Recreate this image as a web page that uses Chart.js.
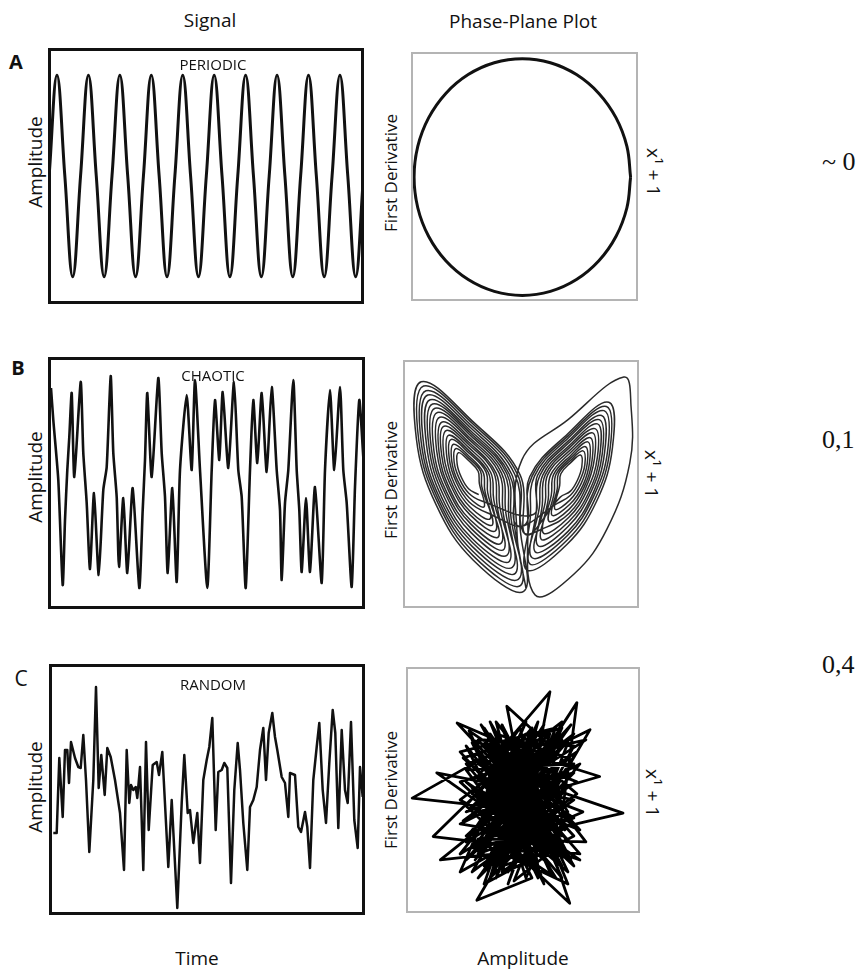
<!DOCTYPE html>
<html>
<head>
<meta charset="utf-8">
<script src="https://cdn.jsdelivr.net/npm/chart.js@4.4.1/dist/chart.umd.min.js"></script>
<style>
  body { margin: 0; background: #fff; width: 864px; height: 975px; position: relative; overflow: hidden;
         font-family: 'Open Sans', 'Noto Sans', sans-serif; color: #111; }
  .box { position: absolute; box-sizing: border-box; background: #fff; }
  .sig { border: 3px solid #111; }
  .phase { border: 2px solid #b4b4b4; }
  .box canvas { position: absolute; left: 0; top: 0; }
  .lbl { position: absolute; transform: translate(-50%, -50%); white-space: nowrap; line-height: 1; }
  .up { transform: translate(-50%, -50%) rotate(-90deg); }
  .down { transform: translate(-50%, -50%) rotate(90deg); }
  .num { font-family: 'Liberation Serif', 'DejaVu Serif', serif; font-size: 26px; transform: translate(0, -50%); }
</style>
</head>
<body>

<div class="lbl" style="left:210px;top:20px;font-size:19px">Signal</div>
<div class="lbl" style="left:523px;top:21px;font-size:19px">Phase-Plane Plot</div>

<div class="lbl" style="left:16px;top:62px;font-size:20px;font-weight:bold">A</div>
<div class="lbl" style="left:18px;top:368px;font-size:20px;font-weight:bold">B</div>
<div class="lbl" style="left:21px;top:678px;font-size:21px">C</div>

<div class="box sig" style="left:48px;top:48px;width:316px;height:256px"><canvas id="sigA" width="310" height="250"></canvas></div>
<div class="box phase" style="left:411px;top:52px;width:227px;height:249px"><canvas id="phA" width="223" height="245"></canvas></div>
<div class="box sig" style="left:48px;top:357px;width:317px;height:252px"><canvas id="sigB" width="311" height="246"></canvas></div>
<div class="box phase" style="left:403px;top:360px;width:236px;height:248px"><canvas id="phB" width="232" height="244"></canvas></div>
<div class="box sig" style="left:49px;top:664px;width:316px;height:251px"><canvas id="sigC" width="310" height="245"></canvas></div>
<div class="box phase" style="left:406px;top:667px;width:234px;height:246px"><canvas id="phC" width="230" height="242"></canvas></div>

<div class="lbl" style="left:213px;top:64px;font-size:15px">PERIODIC</div>
<div class="lbl" style="left:213px;top:375px;font-size:15px">CHAOTIC</div>
<div class="lbl" style="left:213px;top:684px;font-size:15px">RANDOM</div>

<div class="lbl up" style="left:35px;top:162px;font-size:19px">Amplitude</div>
<div class="lbl up" style="left:35px;top:477px;font-size:19px">Amplitude</div>
<div class="lbl up" style="left:35px;top:787px;font-size:19px">Amplitude</div>

<div class="lbl up" style="left:390px;top:173px;font-size:17px">First Derivative</div>
<div class="lbl up" style="left:390px;top:480px;font-size:17px">First Derivative</div>
<div class="lbl up" style="left:390px;top:790px;font-size:17px">First Derivative</div>

<div class="lbl down" style="left:653px;top:172px;font-size:19px">x¹ + 1</div>
<div class="lbl down" style="left:651px;top:474px;font-size:19px">x¹ + 1</div>
<div class="lbl down" style="left:652px;top:793px;font-size:19px">x¹ + 1</div>

<div class="lbl num" style="left:822px;top:162px">~ 0</div>
<div class="lbl num" style="left:822px;top:440px">0,1</div>
<div class="lbl num" style="left:822px;top:665px">0,4</div>

<div class="lbl" style="left:197px;top:958px;font-size:19px">Time</div>
<div class="lbl" style="left:523px;top:958px;font-size:19px">Amplitude</div>

<script>
// A - periodic signal, one value per quarter period
const periodicAmp = [0, 1, 0, -1, 0, 1, 0, -1, 0, 1, 0, -1, 0, 1, 0, -1, 0, 1, 0, -1,
                     0, 1, 0, -1, 0, 1, 0, -1, 0, 1, 0, -1, 0, 1, 0, -1, 0, 1, 0, -1, 0, 1];

// A - phase plane (amplitude, first derivative)
const circleX = [1, 0.966, 0.866, 0.707, 0.5, 0.259, 0, -0.259, -0.5, -0.707, -0.866, -0.966,
                 -1, -0.966, -0.866, -0.707, -0.5, -0.259, 0, 0.259, 0.5, 0.707, 0.866, 0.966, 1];
const circleY = [0, 0.259, 0.5, 0.707, 0.866, 0.966, 1, 0.966, 0.866, 0.707, 0.5, 0.259,
                 0, -0.259, -0.5, -0.707, -0.866, -0.966, -1, -0.966, -0.866, -0.707, -0.5, -0.259, 0];

// B - chaotic signal
const chaoticT = [0.1, 0.33, 0.83, 1.27, 1.5, 1.73, 1.93, 2.17, 2.43, 3.07, 3.33, 3.67, 4.0, 4.4, 4.87,
  5.33, 5.67, 6.07, 6.33, 6.67, 6.9, 7.33, 7.73, 8.27, 8.93, 9.27, 9.5, 9.73, 10.17, 10.83,
  11.17, 11.5, 11.77, 12.23, 12.67, 13.0, 13.67, 14.17, 14.5, 15.0, 15.73, 16.17, 16.5, 16.93, 17.27,
  17.83, 18.4, 18.83, 19.17, 19.57, 20.0, 20.33, 20.73, 21.17, 21.67, 22.17, 22.67, 23.0, 23.17, 23.5,
  23.83, 24.33, 24.67, 24.93, 25.17, 25.6, 26.0, 26.5, 27.17, 27.5, 28.0, 28.43, 29.0, 29.33, 29.67,
  30.17, 30.5, 30.93, 31.33];
const chaoticV = [9.5, 6.3, 0.3, -10.2, -3.7, 1.3, 4.6, 9.0, 0.6, 10.1, 3.0, -2.0, -8.6, -1.0, -9.2,
  -0.7, 1.6, 10.7, 3.0, -1.4, -8.4, -1.5, -9.0, -0.5, -10.5, -2.7, 2.3, 9.0, 0.6, 10.5,
  3.0, -1.4, -9.0, -0.5, -9.9, 1.3, 8.8, 1.3, 10.3, 1.3, -10.5, 1.3, 8.3, 2.3, 9.1,
  1.5, 10.1, 1.3, -1.4, -10.5, 1.3, 8.3, 2.0, 9.0, 1.1, 9.6, 1.3, -2.7, -9.7, -2.0,
  1.3, 10.3, 1.3, -2.7, -8.9, -1.5, -8.9, -0.4, -10.0, 1.3, 9.3, 1.3, 9.6, 1.3, -2.0,
  -10.4, -0.4, 8.3, 2.6];

// B - phase plane, trajectory around the two wings
const chaoticPhase = [
  [-6.9,18.7],[-8.6,19.7],[-9.8,21.6],[-10.5,23.8],[-10.3,25.7],[-8.6,24.4],[-7.0,22.6],[-6.8,20.6],
  [-6.0,16.7],[-8.5,18.2],[-10.4,21.0],[-11.4,24.3],[-11.1,27.1],[-8.6,25.2],[-6.2,22.5],[-5.9,19.5],
  [-5.0,14.7],[-8.4,16.7],[-10.9,20.4],[-12.2,24.8],[-11.9,28.6],[-8.5,26.0],[-5.3,22.4],[-4.9,18.4],
  [-4.1,12.7],[-8.3,15.3],[-11.4,19.9],[-13.1,25.4],[-12.7,30.1],[-8.4,26.9],[-4.4,22.4],[-3.9,17.4],
  [-3.2,10.6],[-8.2,13.8],[-11.9,19.3],[-13.9,25.9],[-13.4,31.6],[-8.3,27.7],[-3.5,22.3],[-2.9,16.3],
  [-2.2,8.6],[-8.1,12.3],[-12.4,18.7],[-14.8,26.4],[-14.2,33.1],[-8.2,28.5],[-2.6,22.2],[-1.9,15.2],
  [-1.3,6.6],[-8.0,10.8],[-13.0,18.1],[-15.6,26.9],[-15.0,34.5],[-8.2,29.3],[-1.8,22.1],[-1.0,14.1],
  [-0.3,4.6],[-7.9,9.3],[-13.5,17.6],[-16.5,27.5],[-15.7,36.0],[-8.1,30.2],[-0.9,22.1],[0.0,13.1],
  [0.6,2.6],[-7.8,7.8],[-14.0,17.0],[-17.3,28.0],[-16.5,37.5],[-8.0,31.0],[0.0,22.0],[1.0,12.0],
  [6.7,18.3],[8.4,19.3],[9.6,21.2],[10.3,23.4],[10.1,25.3],[8.4,24.0],[6.8,22.2],[6.6,20.2],
  [5.8,16.3],[8.3,17.8],[10.2,20.6],[11.2,23.9],[10.9,26.7],[8.4,24.8],[6.0,22.1],[5.7,19.1],
  [4.8,14.3],[8.2,16.3],[10.7,20.0],[12.0,24.4],[11.7,28.2],[8.3,25.6],[5.1,22.0],[4.7,18.0],
  [3.9,12.3],[8.1,14.9],[11.2,19.5],[12.9,25.0],[12.5,29.7],[8.2,26.5],[4.2,22.0],[3.7,17.0],
  [3.0,10.2],[8.0,13.4],[11.7,18.9],[13.7,25.5],[13.2,31.2],[8.1,27.3],[3.3,21.9],[2.7,15.9],
  [2.0,8.2],[7.9,11.9],[12.2,18.3],[14.6,26.0],[14.0,32.7],[8.0,28.1],[2.4,21.8],[1.7,14.8],
  [1.1,6.2],[7.8,10.4],[12.8,17.7],[15.4,26.5],[14.8,34.1],[8.0,28.9],[1.6,21.7],[0.8,13.7],
  [-5.5,15.7],[-8.5,17.5],[-10.6,20.7],[-11.8,24.6],[-11.5,27.9],[-8.5,25.6],[-5.7,22.5],[-5.4,19.0],
  [-3.6,11.7],[-8.3,14.5],[-11.7,19.6],[-13.5,25.6],[-13.0,30.8],[-8.4,27.3],[-4.0,22.3],[-3.4,16.8],
  [-1.8,7.6],[-8.1,11.5],[-12.7,18.4],[-15.2,26.7],[-14.6,33.8],[-8.2,28.9],[-2.2,22.2],[-1.5,14.7],
  [0.1,3.6],[-7.9,8.6],[-13.7,17.3],[-16.9,27.7],[-16.1,36.8],[-8.0,30.6],[-0.4,22.0],[0.5,12.5],
  [4.4,13.3],[8.2,15.6],[10.9,19.7],[12.4,24.7],[12.1,29.0],[8.2,26.0],[4.6,22.0],[4.2,17.5],
  [2.5,9.2],[8.0,12.6],[12.0,18.6],[14.1,25.8],[13.6,31.9],[8.1,27.7],[2.9,21.9],[2.2,15.4],
  [-6.5,17.7],[-8.6,19.0],[-10.1,21.3],[-11.0,24.1],[-10.7,26.4],[-8.6,24.8],[-6.6,22.6],[-6.4,20.1],
  [-4.6,13.7],[-8.4,16.0],[-11.2,20.2],[-12.7,25.1],[-12.3,29.4],[-8.5,26.5],[-4.9,22.4],[-4.4,17.9],
  [-2.7,9.6],[-8.2,13.1],[-12.2,19.0],[-14.4,26.2],[-13.8,32.4],[-8.3,28.1],[-3.1,22.3],[-2.4,15.8],
  [-0.8,5.6],[-8.0,10.1],[-13.3,17.9],[-16.1,27.2],[-15.4,35.3],[-8.2,29.8],[-1.4,22.1],[-0.5,13.6],
  [6.3,17.3],[8.4,18.6],[9.9,20.9],[10.8,23.7],[10.5,26.0],[8.4,24.4],[6.4,22.2],[6.2,19.7],
  [5.3,15.3],[8.3,17.1],[10.5,20.3],[11.6,24.2],[11.3,27.5],[8.4,25.2],[5.6,22.1],[5.2,18.6],
  [3.5,11.3],[8.1,14.2],[11.5,19.2],[13.3,25.3],[12.9,30.5],[8.2,26.9],[3.8,22.0],[3.2,16.5],
  [1.6,7.2],[7.9,11.2],[12.5,18.0],[15.0,26.3],[14.4,33.4],[8.0,28.5],[2.0,21.8],[1.3,14.3],
  [2.5,2.0],[9.0,5.5],[14.5,13.0],[18.3,24.0],[18.5,33.5],[17.3,38.3],[8.0,31.2],[0.3,24.5],[-0.5,12.0],[1.0,3.0]
];

// C - random signal
const randomT = [0.33, 0.67, 0.93, 1.27, 1.5, 1.73, 1.9, 2.1, 2.5, 2.83, 3.07, 3.33, 3.6, 3.93, 4.33,
  4.6, 4.87, 5.13, 5.47, 5.73, 6.07, 6.5, 7.0, 7.4, 7.67, 7.93, 8.1, 8.33, 8.57, 8.73,
  9.0, 9.33, 9.6, 9.87, 10.27, 10.67, 10.9, 11.23, 11.83, 12.17, 12.73, 13.17, 13.43, 13.77, 14.0,
  14.33, 14.73, 15.0, 15.33, 15.67, 15.93, 16.23, 16.57, 16.83, 17.17, 17.43, 17.73, 18.1, 18.43, 18.77,
  19.0, 19.33, 19.73, 20.0, 20.33, 20.67, 21.0, 21.33, 21.6, 21.87, 22.23, 22.5, 22.73, 23.17, 23.5,
  23.83, 24.0, 24.5, 24.83, 25.1, 25.5, 25.73, 26.0, 26.33, 26.67, 26.93, 27.27, 27.6, 27.93, 28.27,
  28.53, 28.83, 29.17, 29.5, 29.77, 30.1, 30.43, 30.77, 31.0, 31.27, 31.4];
const randomV = [-4.3, -4.3, 3.2, -2.7, 4.0, 4.0, 0.7, 4.8, 3.2, 2.3, 2.2, 5.5, 1.0, -6.2, 1.0,
  10.3, 0.2, 3.5, -0.5, 4.2, 3.3, 1.0, -2.3, -8.0, 4.0, -1.3, 0.5, 0.0, 0.3, -0.8,
  2.3, -8.0, 4.8, -4.0, 2.5, 2.8, 1.5, 3.8, -7.7, -1.0, -11.8, -1.3, 3.5, -2.3, -2.0,
  -5.3, -2.3, -7.3, 1.0, 3.0, 4.3, 7.2, -4.0, 1.8, 2.0, 2.7, 2.2, -9.3, 0.0, 4.7,
  2.0, -3.3, -8.0, -1.7, -1.0, 0.3, 4.0, 6.2, 1.0, 5.7, 7.7, 5.3, 4.0, 1.3, 0.7,
  -2.7, 1.7, 1.5, -3.7, -4.2, -2.2, -3.7, -7.8, 1.0, 4.3, 6.7, 0.0, -3.3, 2.7, 8.0,
  5.7, -3.8, 6.0, 0.0, -1.3, 6.8, -3.0, -5.8, 2.3, -0.7, 1.0];

// C - random phase plane
const randomPhase = [
  [-0.6,0.9],[0.7,-0.8],[-0.3,-1.1],[0.5,1.1],[-0.9,-0.2],[0.8,0.4],[0.1,-1.3],[-0.5,0.6],[0.9,-0.3],[-0.7,-0.9],
  [0.3,1.3],[-0.2,-0.5],[0.6,0.8],[-1.0,0.3],[0.4,-1.0],[-0.1,1.0],[0.95,0.1],[-0.8,-1.2],[0.2,0.5],[-0.4,-1.3],
  [0.7,1.2],[-0.95,0.7],[0.5,-0.6],[-0.3,1.2],[0.85,-1.0],[-0.6,-0.4],[0.1,1.1],[-1.8,0.03],[0.3,-0.2],[-0.7,1.0],
  [0.9,0.9],[-0.2,-1.2],[0.6,0.2],[-0.9,-0.7],[0.4,1.25],[-0.5,-0.1],[0.8,-1.2],[-0.1,0.7],[1.0,-0.5],[-0.8,0.2],
  [0.2,-0.9],[-0.4,1.3],[0.7,-0.1],[-0.6,-1.1],[0.5,0.9],[-0.22,1.56],[0.3,-1.1],[-0.9,0.5],[0.9,0.6],[-0.3,-0.7],
  [0.6,-1.3],[-0.7,0.8],[0.1,-0.4],[-0.5,1.1],[0.8,-0.7],[-1.0,-0.4],[0.4,0.3],[-0.2,-1.4],[0.7,1.0],[-0.8,-0.8],
  [1.72,-0.22],[-0.1,0.4],[0.5,-1.2],[-0.6,1.2],[0.2,0.0],[-0.9,-1.0],[0.9,1.1],[-0.4,0.1],[0.6,-0.9],[-0.7,0.4],
  [0.5,1.8],[0.0,-0.8],[-0.5,0.9],[0.85,-0.4],[-0.3,-1.2],[0.3,0.7],[-1.05,1.28],[0.7,-0.6],[-0.2,0.2],[0.4,-1.4],
  [-0.8,1.0],[0.95,0.3],[-0.5,-0.6],[0.2,1.2],[-0.9,-0.1],[0.83,-1.72],[-0.1,1.0],[0.6,0.5],[-0.7,-1.3],[0.3,-0.3],
  [-0.4,0.7],[1.0,-0.9],[-1.45,-0.61],[0.1,0.9],[0.8,-0.2],[-0.6,-0.8],[0.4,1.0],[-0.3,-0.3],[0.95,1.62],[0.6,-1.0],
  [-0.9,0.9],[0.2,-1.3],[-0.72,-1.67],[0.5,0.4],[-0.2,-0.9],[0.7,1.3],[-1.0,0.0],[0.3,-0.7],[-0.5,1.3],[0.9,-1.1],
  [-0.6,0.3],[1.17,1.17],[-0.1,-1.0],[0.4,0.6],[-0.8,-0.5],[0.6,-0.5],[-0.3,0.9],[1.33,0.39],[-0.7,-0.2],[0.2,-1.1],
  [-0.4,1.1],[0.8,0.7],[-1.33,-1.0],[0.5,-0.8],[-0.1,0.5],[0.7,-1.3],[-0.9,0.6],[0.3,1.0],[-0.5,-1.0],[0.9,0.0],
  [-1.39,0.45],[0.1,-0.6],[-0.6,1.0],[0.6,0.9],[-0.2,-0.2],[0.8,-0.9],[-0.8,0.1],[0.0,1.2],[0.4,-0.4],[-0.5,-1.3],
  [0.2,1.0],[-0.8,-0.3],[1.0,0.6],[-0.4,-1.1],[0.6,1.2],[-1.0,0.8],[0.7,-1.1],[-0.2,0.6],[0.9,-0.6],[-0.6,-1.4],
  [0.0,0.3],[1.1,1.0],[-0.7,0.6],[0.4,-0.1],[-0.3,1.25],[0.8,-1.4],[-0.9,-0.6],[0.5,0.7],[-0.1,-0.7],[1.05,-0.2],
  [-0.5,0.4],[0.3,-1.3],[-0.85,1.15],[0.7,0.1],[-0.2,-1.0],[0.95,0.8],[-0.6,-0.2],[0.1,1.3],[-1.0,-1.2],[0.6,-0.3],
  [-0.3,0.0],[0.85,1.25],[-0.75,-1.0],[0.25,0.4],[-0.45,-0.5],[1.0,-1.0],[-0.9,0.3],[0.45,-0.9],[-0.15,0.85],[0.75,-0.5],
  [-0.65,1.25],[0.15,-0.2],[-1.0,-0.9],[0.55,1.05],[-0.35,-0.8],[0.9,0.45],[-0.55,0.15],[0.35,-1.25],[-0.8,0.95],[0.65,-0.75],
  [-0.1,-1.35],[0.8,0.95],[-0.95,-0.35],[0.3,0.15],[-0.25,1.05],[1.1,-0.7],[-0.7,-0.65],[0.5,-0.45],[-0.4,0.45],[0.05,-1.1]
];

function drawPanel(id, points, range, line) {
    const ctx = document.getElementById(id).getContext('2d');
    new Chart(ctx, {
        type: 'scatter',
        data: {
            datasets: [{
                data: points,
                showLine: true,
                borderColor: line.color,
                borderWidth: line.width,
                borderJoinStyle: 'round',
                tension: line.tension,
                pointRadius: 0,
                fill: false,
                clip: 0
            }]
        },
        options: {
            responsive: false,
            animation: false,
            events: [],
            layout: { padding: 0 },
            plugins: { legend: { display: false }, tooltip: { enabled: false } },
            scales: {
                x: { type: 'linear', display: false, min: range[0], max: range[1] },
                y: { type: 'linear', display: false, min: range[2], max: range[3] }
            }
        }
    });
}

document.addEventListener('DOMContentLoaded', () => {
    drawPanel('sigA', periodicAmp.map((v, i) => ({ x: i, y: v })),
        [0.24, 39.68, -1.24, 1.24], { color: '#111', width: 3, tension: 0.4 });
    drawPanel('phA', circleX.map((v, i) => ({ x: v, y: circleY[i] })),
        [-1.01, 1.05, -1.03, 1.04], { color: '#111', width: 3, tension: 0.4 });
    drawPanel('sigB', chaoticT.map((t, i) => ({ x: t, y: chaoticV[i] })),
        [0.1, 31.2, -12.3, 12.3], { color: '#111', width: 2.6, tension: 0.2 });
    drawPanel('phB', chaoticPhase.map(p => ({ x: p[0], y: p[1] })),
        [-19.2, 19.5, 0.17, 40.8], { color: '#2a2a2a', width: 1.5, tension: 0.4 });
    drawPanel('sigC', randomT.map((t, i) => ({ x: t, y: randomV[i] })),
        [0.2, 31.2, -12.2, 12.3], { color: '#111', width: 2.5, tension: 0 });
    drawPanel('phC', randomPhase.map(p => ({ x: p[0], y: p[1] })),
        [-1.87, 1.97, -1.85, 2.18], { color: '#000', width: 2.8, tension: 0 });
});
</script>
</body>
</html>
